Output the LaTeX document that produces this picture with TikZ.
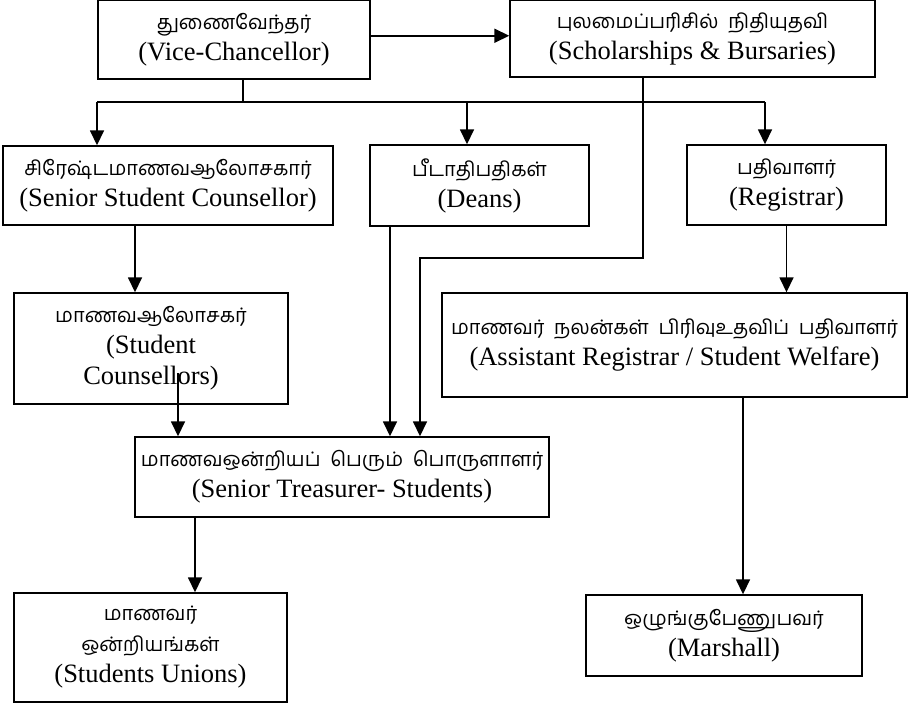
\documentclass[tikz,border=0pt]{standalone}
\usepackage{fontspec}
\setmainfont{Liberation Serif}
\newfontfamily\tamilfont[Script=Tamil]{Hind Madurai}
\usetikzlibrary{arrows.meta}
\newcommand\ta[1]{{\tamilfont\fontsize{20}{30}\selectfont #1}}

\begin{document}
\begin{tikzpicture}[x=1pt,y=-1pt,
  orgbox/.style={draw, line width=1.4pt, align=center, inner sep=0pt,
    font=\fontsize{26.5}{31}\selectfont},
  link/.style={line width=1.6pt},
  arr/.style={link, -{Triangle[length=15pt,width=14pt]}}]
\useasboundingbox (0,0) rectangle (915,704);

% boxes
\node[orgbox, minimum width=272pt, minimum height=78.5pt] (vc) at (234,39.75)
  {\ta{துணைவேந்தர்}\\(Vice-Chancellor)};
\node[orgbox, minimum width=365pt, minimum height=76.5pt] (schol) at (692.5,38.75)
  {\ta{புலமைப்பரிசில்\ \ நிதியுதவி}\\(Scholarships \& Bursaries)};
\node[orgbox, minimum width=330pt, minimum height=79pt] (ssc) at (168,185.5)
  {\ta{சிரேஷ்டமாணவஆலோசகார்}\\(Senior Student Counsellor)};
\node[orgbox, minimum width=219pt, minimum height=81pt] (deans) at (479.5,185.5)
  {\ta{பீடாதிபதிகள்}\\(Deans)};
\node[orgbox, minimum width=199pt, minimum height=80pt] (reg) at (786.5,185)
  {\ta{பதிவாளர்}\\(Registrar)};
\node[orgbox, minimum width=274pt, minimum height=111pt] (sc) at (151,348.5)
  {\ta{மாணவஆலோசகர்}\\(Student\\Counsellors)};
\node[orgbox, minimum width=465pt, minimum height=104pt] (ar) at (674.5,345)
  {\ta{மாணவர்\ \ நலன்கள்\ \ பிரிவுஉதவிப்\ \ பதிவாளர்}\\(Assistant Registrar / Student Welfare)};
\node[orgbox, minimum width=414pt, minimum height=80pt] (tr) at (342,477)
  {\ta{மாணவஒன்றியப்\ \ பெரும்\ \ பொருளாளர்}\\(Senior Treasurer- Students)};
\node[orgbox, minimum width=273pt, minimum height=109pt] (un) at (150.5,647.5)
  {\ta{மாணவர்}\\\ta{ஒன்றியங்கள்}\\(Students Unions)};
\node[orgbox, minimum width=276pt, minimum height=81pt] (mar) at (724,635.5)
  {\ta{ஒழுங்குபேணுபவர்}\\(Marshall)};

% routing points
\coordinate (hub) at (243,102);
\coordinate (bL) at (97,102);
\coordinate (bM) at (467,102);
\coordinate (bR) at (765,102);
\coordinate (sk1) at (643,258);
\coordinate (sk2) at (420,258);
\coordinate (sc1) at (178,373);
\coordinate (dl) at (390,300);
\coordinate (cs) at (135,260);
\coordinate (tu) at (195,550);
\coordinate (am) at (743,500);

% connectors
\draw[arr] ([yshift=4pt]vc.east) -- ([yshift=4pt]vc.east -| schol.west);
\draw[link] (vc.south -| hub) -- (hub);
\draw[link] (bL) -- (bR);
\draw[arr] (bL) -- (bL |- ssc.north);
\draw[arr] (bM) -- (bM |- deans.north);
\draw[arr] (bR) -- (bR |- reg.north);
\draw[arr] (ssc.south -| cs) -- (cs |- sc.north);
\draw[arr] (reg.south) -- (reg.south |- ar.north);
\draw[arr] (deans.south -| dl) -- (dl |- tr.north);
\draw[arr] (schol.south -| sk1) -- (sk1) -- (sk2) -- (sk2 |- tr.north);
\draw[arr] (sc1) -- (sc1 |- tr.north);
\draw[arr] (tr.south -| tu) -- (tu |- un.north);
\draw[arr] (ar.south -| am) -- (am |- mar.north);
\end{tikzpicture}
\end{document}
